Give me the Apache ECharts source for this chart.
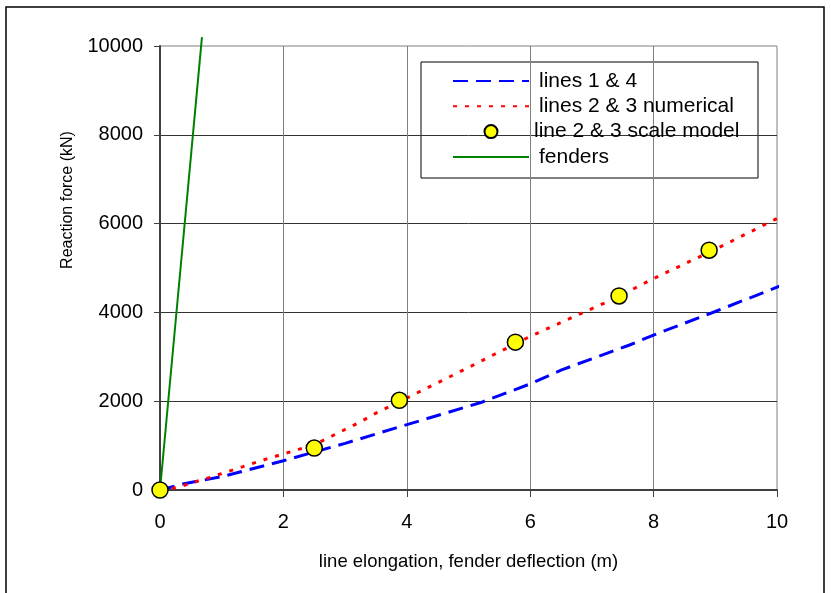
<!DOCTYPE html>
<html>
<head>
<meta charset="utf-8">
<script src="https://cdn.jsdelivr.net/npm/echarts@6/dist/echarts.min.js"></script>
<style>html,body{margin:0;padding:0;background:#fff}#c{width:831px;height:593px}</style>
</head>
<body>
<div id="c"></div>
<script>
// Data
var lines14X = [0, 0.37, 1.0, 1.5, 2.0, 3.0, 3.9, 5.2, 6.0, 6.5, 7.6, 8.0, 9.0, 10.13];
var lines14Y = [0, 135, 300, 480, 660, 1050, 1430, 1970, 2390, 2700, 3260, 3490, 4020, 4640];
var lines23X = [0, 0.27, 0.8, 1.73, 2.5, 3.2, 3.5, 4.1, 5.0, 5.97, 6.7, 7.4, 7.95, 9.0, 10.05];
var lines23Y = [0, 55, 280, 700, 1020, 1500, 1730, 2140, 2760, 3440, 3900, 4330, 4730, 5420, 6150];
var modelX = [0, 2.5, 3.88, 5.76, 7.44, 8.9];
var modelY = [0, 945, 2020, 3330, 4370, 5400];
var fenderX = [0, 0.68];
var fenderY = [0, 10200];
var xTicks = [0, 2, 4, 6, 8, 10];
var yTicks = [0, 2000, 4000, 6000, 8000, 10000];
var seriesNames = ['lines 1 & 4', 'lines 2 & 3 numerical', 'line 2 & 3 scale model', 'fenders'];

function pairs(xs, ys) { return xs.map(function (x, i) { return [x, ys[i]]; }); }

var FONT = '"Liberation Sans", Arial, sans-serif';
var chart = echarts.init(document.getElementById('c'), null, { renderer: 'canvas' });
chart.setOption({
  animation: false,
  backgroundColor: '#fff',
  textStyle: { fontFamily: FONT, color: '#000' },
  grid: { left: 160, top: 46, width: 617, height: 444, show: true, borderColor: '#808080', borderWidth: 1, backgroundColor: 'transparent' },
  xAxis: {
    type: 'value', min: xTicks[0], max: xTicks[xTicks.length - 1], interval: 2,
    name: 'line elongation, fender deflection (m)', nameLocation: 'middle', nameGap: 62,
    nameTextStyle: { fontSize: 18.5, fontFamily: FONT, color: '#000' },
    axisLine: { show: true, onZero: false, lineStyle: { color: '#404040', width: 2 } },
    axisTick: { show: true, inside: false, length: 7, lineStyle: { color: '#404040', width: 1 } },
    axisLabel: { fontSize: 20, fontFamily: FONT, color: '#000', margin: 22, formatter: function (v) { return String(v); } },
    splitLine: { show: true, showMinLine: false, showMaxLine: false, lineStyle: { color: '#808080', width: 1 } }
  },
  yAxis: {
    type: 'value', min: yTicks[0], max: yTicks[yTicks.length - 1], interval: 2000,
    axisLine: { show: true, onZero: false, lineStyle: { color: '#404040', width: 2 } },
    axisTick: { show: true, inside: false, length: 6, lineStyle: { color: '#404040', width: 1 } },
    axisLabel: { fontSize: 20, fontFamily: FONT, color: '#000', margin: 17, formatter: function (v) { return String(v); } },
    splitLine: { show: true, showMinLine: false, showMaxLine: false, lineStyle: { color: '#333', width: 1 } }
  },
  legend: {
    orient: 'vertical', left: 452, top: 70.5, padding: 0, itemGap: 4.3,
    itemWidth: 76, itemHeight: 13,
    textStyle: { fontSize: 21, fontFamily: FONT, color: '#000' },
    data: [
      { name: seriesNames[0], itemStyle: { opacity: 0 }, textStyle: { padding: [0, 0, 0, 5] } },
      { name: seriesNames[1], itemStyle: { opacity: 0 }, textStyle: { padding: [0, 0, 0, 5] } },
      { name: seriesNames[2] },
      { name: seriesNames[3], itemStyle: { opacity: 0 }, textStyle: { padding: [0, 0, 0, 5] } }
    ]
  },
  graphic: [
    { type: 'rect', shape: { x: 6, y: 7, width: 818, height: 620 }, style: { fill: null, stroke: '#000', lineWidth: 1.5 }, silent: true, z: 100 },
    { type: 'rect', shape: { x: 421, y: 62, width: 337, height: 116 }, style: { fill: '#fff', stroke: '#000', lineWidth: 1 }, silent: true, z: 0, zlevel: 0 },
    { type: 'text', x: 68, y: 200, rotation: Math.PI / 2, style: { text: 'Reaction force (kN)', fontSize: 16, fontFamily: FONT, fill: '#000', align: 'center', verticalAlign: 'middle' }, silent: true }
  ],
  series: [
    { name: seriesNames[0], type: 'line', data: pairs(lines14X, lines14Y), symbol: 'none', clip: false, z: 3,
      lineStyle: { color: '#0000FF', width: 3, type: [15, 8] }, itemStyle: { color: '#0000FF' } },
    { name: seriesNames[1], type: 'line', data: pairs(lines23X, lines23Y), symbol: 'none', clip: false, z: 3,
      lineStyle: { color: '#FF0000', width: 3, type: [4, 8] }, itemStyle: { color: '#FF0000' } },
    { name: seriesNames[2], type: 'scatter', data: pairs(modelX, modelY), symbol: 'circle', symbolSize: 16, clip: false, z: 5,
      itemStyle: { color: '#FFFF00', borderColor: '#000', borderWidth: 1.5, opacity: 1 } },
    { name: seriesNames[3], type: 'line', data: pairs(fenderX, fenderY), symbol: 'none', clip: false, z: 2,
      lineStyle: { color: '#008000', width: 2 }, itemStyle: { color: '#008000' } }
  ]
});
</script>
</body>
</html>
